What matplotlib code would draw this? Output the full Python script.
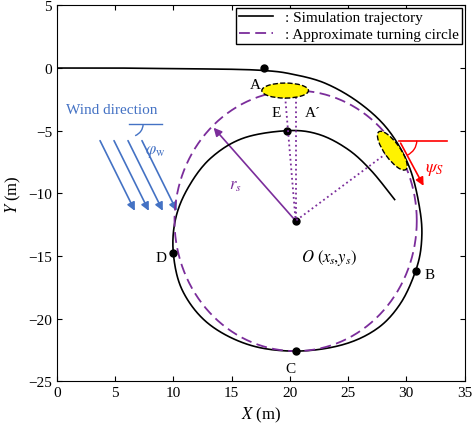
import numpy as np
import matplotlib
matplotlib.use("Agg")
import matplotlib.pyplot as plt
from matplotlib.patches import Ellipse, FancyArrowPatch, Arc

plt.rcParams['font.family'] = ['Liberation Serif', 'DejaVu Serif']
plt.rcParams['mathtext.fontset'] = 'stix'

traj_x = [0, 5, 10, 15, 17.8, 20, 23, 26, 28.5, 30.3, 31.2, 31.3, 30.8, 29.5, 27.5, 24.5, 20.5, 16.5, 13, 10.8, 10, 10.2, 11.3, 13.2, 16, 19.8, 22.5, 25, 27, 29]
traj_y = [0, 0, -0.05, -0.1, -0.2, -0.45, -1.2, -2.8, -5, -8, -11.5, -14, -16.2, -18.8, -20.8, -22.1, -22.6, -22.1, -20.4, -17.8, -14.8, -12, -9.5, -7.2, -5.6, -5, -5.3, -6.5, -8.2, -10.5]
center = (20.5, -12.2)
radius = 10.4
pts_names = ['A', 'E', 'D', 'B', 'C', 'O']
pts_x = [17.8, 19.8, 10, 30.8, 20.5, 20.5]
pts_y = [0, -5, -14.8, -16.2, -22.6, -12.2]

def catmull(x, y, n=20):
    P = np.column_stack([x, y])
    P = np.vstack([P[0], P, P[-1]])
    out = []
    for i in range(1, len(P) - 2):
        p0, p1, p2, p3 = P[i-1], P[i], P[i+1], P[i+2]
        for t in np.linspace(0, 1, n, endpoint=False):
            out.append(0.5*((2*p1) + (-p0+p2)*t + (2*p0-5*p1+4*p2-p3)*t**2 + (-p0+3*p1-3*p2+p3)*t**3))
    out.append(P[-2])
    out = np.array(out)
    return out[:, 0], out[:, 1]

fig = plt.figure(figsize=(4.74, 4.27), dpi=100)
ax = fig.add_axes([0.12, 0.105, 0.86, 0.88])
sx, sy = catmull(traj_x, traj_y)
ax.plot(sx, sy, color='black', lw=1.2, label=': Simulation trajectory')
th = np.linspace(0, 2*np.pi, 400)
ax.plot(center[0] + radius*np.cos(th), center[1] + radius*np.sin(th), color='#7B2D9B', lw=1.3, ls=(0, (6, 3)), label=': Approximate turning circle')
ax.plot(pts_x, pts_y, 'o', color='black', ms=5)

ax.add_patch(Ellipse((19.6, -1.8), 4, 1.2, facecolor='#FFF200', edgecolor='black', ls='--', lw=1, zorder=5))
ax.add_patch(Ellipse((28.8, -6.6), 3.8, 1.3, angle=-52, facecolor='#FFF200', edgecolor='black', ls='--', lw=1, zorder=5))
ax.plot([20.5, 20.5], [-2.3, -12.2], ':', color='#7B2D9B', lw=1.3)
ax.plot([19.6, 20.5], [-2.3, -12.2], ':', color='#7B2D9B', lw=1.3)
ax.plot([28.6, 20.5], [-6.6, -12.2], ':', color='#7B2D9B', lw=1.3)
ax.add_patch(FancyArrowPatch((20.5, -12.2), (13.3, -4.6), arrowstyle='-|>', mutation_scale=12, color='#7B2D9B', lw=1.2))
ax.text(14.8, -9.6, r'$r_s$', color='#7B2D9B', fontsize=12)

ax.plot([29.4, 33.5], [-5.8, -5.8], color='red', lw=1.2)
ax.add_patch(FancyArrowPatch((29.4, -5.8), (31.6, -9.6), arrowstyle='-|>', mutation_scale=12, color='red', lw=1.2))
ax.add_patch(Arc((29.4, -5.8), 3.0, 2.6, theta1=-60, theta2=0, color='red', lw=1))
ax.text(31.6, -8.2, r'$\psi_S$', color='red', fontsize=13)

blue = '#4472C4'
ax.text(0.8, -3.6, 'Wind direction', color=blue, fontsize=11)
for dx in [0, 1.2, 2.4, 3.6]:
    ax.add_patch(FancyArrowPatch((3.6 + dx, -5.6), (6.8 + dx, -11.6), arrowstyle='-|>', mutation_scale=12, color=blue, lw=1.2))
ax.plot([6.2, 9], [-4.5, -4.5], color=blue, lw=1)
ax.add_patch(Arc((6.2, -4.5), 2.4, 2.0, theta1=-60, theta2=0, color=blue, lw=1))
ax.text(7.6, -6.8, r'$\varphi_{\rm w}$', color=blue, fontsize=12)

ax.text(16.6, -1.6, 'A', fontsize=11)
ax.text(21.3, -3.8, 'A\u00b4', fontsize=11)
ax.text(18.4, -3.8, 'E', fontsize=11)
ax.text(8.5, -15.4, 'D', fontsize=11)
ax.text(31.6, -16.8, 'B', fontsize=11)
ax.text(19.6, -24.3, 'C', fontsize=11)
ax.text(21, -15.4, r'$O\ (x_s\!,\!y_s)$', fontsize=12)

ax.set_xlim(0, 35)
ax.set_ylim(-25, 5)
ax.set_xticks(range(0, 36, 5))
ax.set_yticks(range(-25, 6, 5))
ax.tick_params(direction='in', labelsize=11, top=True, right=True)
ax.set_xlabel(r'$X$ (m)', fontsize=12)
ax.set_ylabel(r'$Y$ (m)', fontsize=12)
ax.legend(loc='upper right', fontsize=11, handlelength=2.2, borderaxespad=0.15, fancybox=False, edgecolor='black', framealpha=1, borderpad=0.2, labelspacing=0.2)
fig.savefig('out.png', dpi=100)
